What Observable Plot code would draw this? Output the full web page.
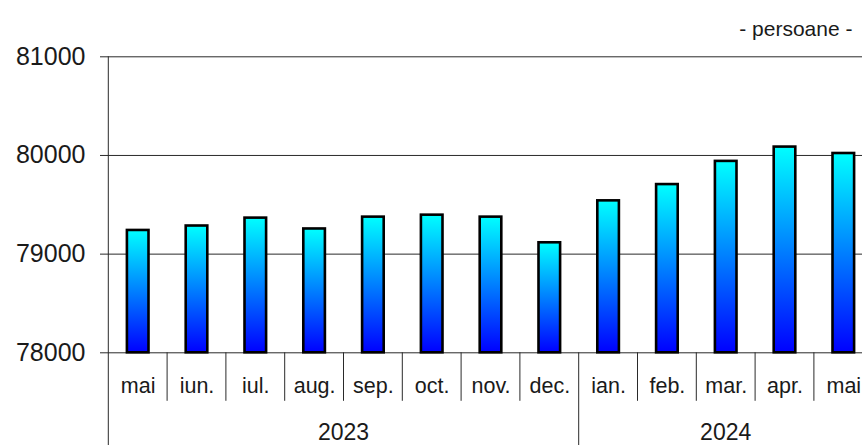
<!DOCTYPE html>
<html><head><meta charset="utf-8">
<script src="https://cdn.jsdelivr.net/npm/d3@7"></script>
<script src="https://cdn.jsdelivr.net/npm/@observablehq/plot@0.6"></script>
<style>
html,body{margin:0;padding:0;background:#fff;overflow:hidden}
#chart svg{display:block;overflow:hidden}
</style></head><body><div id="chart"></div>
<script>
const periods = ["2023-05","2023-06","2023-07","2023-08","2023-09","2023-10","2023-11","2023-12","2024-01","2024-02","2024-03","2024-04","2024-05"];
const monthLabels = ["mai","iun.","iul.","aug.","sep.","oct.","nov.","dec.","ian.","feb.","mar.","apr.","mai"];
const values = [79240,79285,79365,79255,79375,79395,79375,79115,79540,79705,79940,80085,80020];
const yTicks = [78000,79000,80000,81000];
const unitLabel = "- persoane -";

const data = periods.map((p, i) => ({period: p, month: monthLabels[i], year: p.slice(0, 4), value: values[i]}));
const years = [...new Set(data.map(d => d.year))];
const ink = "#1a1a1a";
const lineColor = "#2a2a2a";

function decorations(index, scales, vals, dims) {
  const x = scales.x, y = scales.y;
  const step = x(periods[1]) - x(periods[0]);
  const g = d3.create("svg:g");
  const defs = g.append("defs");
  const lg = defs.append("linearGradient").attr("id", "barGrad")
    .attr("x1", 0).attr("y1", 0).attr("x2", 0).attr("y2", 1);
  lg.append("stop").attr("offset", "0%").attr("stop-color", "#00ffff");
  lg.append("stop").attr("offset", "100%").attr("stop-color", "#0000ff");
  const base = y(yTicks[0]);
  periods.forEach((p, i) => {
    if (i === 0) return;
    const isYearStart = p.slice(0, 4) !== periods[i - 1].slice(0, 4);
    g.append("line").attr("x1", x(p)).attr("x2", x(p))
      .attr("y1", base).attr("y2", isYearStart ? dims.height : base + 48.5)
      .attr("stroke", lineColor).attr("stroke-width", 1);
  });
  g.append("line").attr("x1", x(periods[0])).attr("x2", x(periods[0]))
    .attr("y1", y(yTicks[yTicks.length - 1])).attr("y2", dims.height)
    .attr("stroke", lineColor).attr("stroke-width", 1);
  years.forEach(yr => {
    const ps = periods.filter(p => p.startsWith(yr));
    const cx = (x(ps[0]) + x(ps[ps.length - 1]) + step) / 2;
    g.append("text").attr("x", cx).attr("y", base + 87.5)
      .attr("text-anchor", "middle").attr("font-size", 23).attr("fill", ink)
      .text(yr);
  });
  return g.node();
}

const chart = Plot.plot({
  width: 862,
  height: 445,
  marginLeft: 100,
  marginRight: 0,
  marginTop: 56.3,
  marginBottom: 92.7,
  style: {fontFamily: "'Liberation Sans', Arial, sans-serif", color: ink, background: "#fff"},
  x: {type: "band", domain: periods, range: [108.3, 872.7], padding: 0, round: false},
  y: {domain: [yTicks[0], yTicks[yTicks.length - 1]]},
  marks: [
    Plot.ruleY(yTicks, {stroke: lineColor, strokeWidth: 1}),
    decorations,
    Plot.barY(data, {x: "period", y1: yTicks[0], y2: "value", fill: "url(#barGrad)", stroke: "#000", strokeWidth: 2.6, insetLeft: 18.6, insetRight: 18.6}),
    Plot.axisY(yTicks, {anchor: "left", tickSize: 0, tickPadding: 15, fontSize: 25, fill: ink, tickFormat: d => String(d), label: null}),
    Plot.axisX({tickSize: 0, tickPadding: 25, fontSize: 21.5, fill: ink, tickFormat: p => monthLabels[periods.indexOf(p)], label: null}),
    Plot.text([unitLabel], {frameAnchor: "top-right", lineAnchor: "bottom", dx: -10, dy: -21.2, textAnchor: "end", fontSize: 21, fill: ink})
  ]
});
document.getElementById("chart").append(chart);
</script></body></html>
